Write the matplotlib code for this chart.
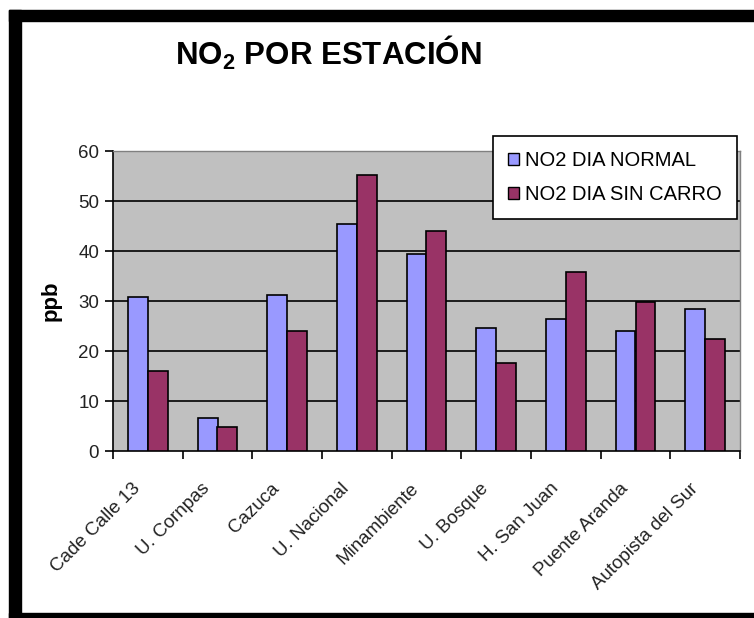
import numpy as np
import matplotlib
matplotlib.use("Agg")
import matplotlib.pyplot as plt
import matplotlib.transforms as mtransforms
from matplotlib.patches import Rectangle

plt.rcParams["font.family"] = ["Liberation Sans", "DejaVu Sans"]
plt.rcParams["mathtext.fontset"] = "custom"
plt.rcParams["mathtext.rm"] = "Liberation Sans:bold"
plt.rcParams["mathtext.default"] = "rm"

# ── data ───────────────────────────────────────────────────────────────────
stations = ["Cade Calle 13", "U. Cornpas", "Cazuca", "U. Nacional", "Minambiente",
            "U. Bosque", "H. San Juan", "Puente Aranda", "Autopista del Sur"]
no2_normal = [30.9, 6.7, 31.2, 45.5, 39.5, 24.7, 26.4, 24.0, 28.4]
no2_sin_carro = [16.1, 4.9, 24.0, 55.3, 44.1, 17.7, 35.9, 29.9, 22.4]
series_labels = ["NO2 DIA NORMAL", "NO2 DIA SIN CARRO"]
y_ticks = [0, 10, 20, 30, 40, 50, 60]

BLUE = "#9999FF"
PLUM = "#993366"
W, H = 754, 618

fig = plt.figure(figsize=(W / 100, H / 100), dpi=100, facecolor="white")

# black frame round the chart (right side runs off the picture)
for rect in [(9, 0, 12, H - 10), (9, H - 21, W, 11), (9, 0, W, 5)]:
    fig.patches.append(Rectangle((rect[0] / W, rect[1] / H), rect[2] / W, rect[3] / H,
                                 transform=fig.transFigure, color="black", zorder=0))

ax = fig.add_axes([113 / W, (H - 451) / H, 627 / W, 300 / H])
ax.set_facecolor("#C0C0C0")

x = np.arange(len(stations))
bw = 0.2857
ax.bar(x - bw / 2, no2_normal, bw, color=BLUE, edgecolor="black", linewidth=1.2, zorder=3)
ax.bar(x + bw / 2, no2_sin_carro, bw, color=PLUM, edgecolor="black", linewidth=1.2, zorder=3)

ax.set_xlim(-0.5, len(stations) - 0.5)
ax.set_ylim(0, 60)
ax.set_yticks(y_ticks)
ax.set_yticklabels([str(t) for t in y_ticks], fontsize=13.5, color="#222222")
for t in y_ticks[1:-1]:
    ax.axhline(t, color="black", linewidth=1.2, zorder=1)

ax.set_xticks(np.arange(len(stations) + 1) - 0.5)
ax.set_xticklabels([])
ax.tick_params(axis="x", direction="out", length=6, width=1.2)
ax.tick_params(axis="y", direction="out", length=6, width=1.2, pad=4)

# category labels, rotated 45°, ending just left of each category centre
shift = mtransforms.ScaledTranslation(-16 / 100, -29 / 100, fig.dpi_scale_trans)
for i, name in enumerate(stations):
    ax.text(i, 0, name, transform=ax.transData + shift, rotation=45,
            rotation_mode="anchor", ha="right", va="top", fontsize=13.5,
            color="#222222", clip_on=False)

for side in ["top", "right"]:
    ax.spines[side].set_color("#808080")
    ax.spines[side].set_linewidth(1)
for side in ["left", "bottom"]:
    ax.spines[side].set_color("black")
    ax.spines[side].set_linewidth(1.2)

ax.set_ylabel("ppb", fontsize=16, fontweight="bold", labelpad=12)

fig.text(328 / W, 1 - 53 / H, r"NO$_2$ POR ESTACIÓN", fontsize=22.5, fontweight="bold",
         ha="center", va="center")

handles = [Rectangle((0, 0), 1, 1, facecolor=BLUE, edgecolor="black", linewidth=1),
           Rectangle((0, 0), 1, 1, facecolor=PLUM, edgecolor="black", linewidth=1)]
leg = fig.legend(handles, series_labels, loc="upper left",
                 bbox_to_anchor=(493 / W, 1 - 136 / H), borderaxespad=0, fontsize=14.5,
                 frameon=True, fancybox=False, handlelength=0.55, handleheight=0.55,
                 handletextpad=0.3, borderpad=0.75, labelspacing=0.75)
leg.get_frame().set_edgecolor("black")
leg.get_frame().set_linewidth(1.2)
leg.get_frame().set_alpha(1)

fig.savefig("out.png", dpi=100, facecolor="white")
